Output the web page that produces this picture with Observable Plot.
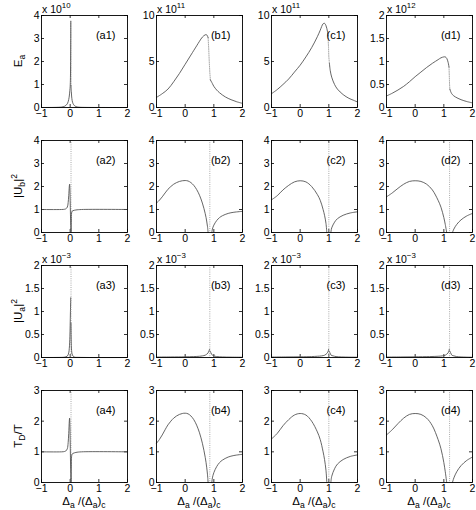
<!DOCTYPE html>
<html><head><meta charset="utf-8">
<script src="https://cdn.jsdelivr.net/npm/d3@7"></script>
<script src="https://cdn.jsdelivr.net/npm/@observablehq/plot@0.6"></script>
<style>
body{margin:0;background:#fff;}
#root{position:relative;width:476px;height:510px;font-family:"Liberation Sans",Arial,sans-serif;overflow:hidden;}
.panel{position:absolute;}
#overlay{position:absolute;left:0;top:0;pointer-events:none;}
</style></head><body><div id="root"></div>
<script>
// ---------- data ----------
const xTicks = [-1, 0, 1, 2];
const panelLabels = [["(a1)","(b1)","(c1)","(d1)"],["(a2)","(b2)","(c2)","(d2)"],["(a3)","(b3)","(c3)","(d3)"],["(a4)","(b4)","(c4)","(d4)"]];
const critX = [0.03, 0.86, 1.0, 1.2];
const exponents = [["10","11","11","12"], null, ["\u22123","\u22123","\u22123","\u22123"], null];

// Row 1: E_a
const EaA_up = [[-1,0],[-0.6,0.003],[-0.4,0.01],[-0.3,0.02],[-0.2,0.05],[-0.15,0.09],[-0.1,0.16],[-0.07,0.25],[-0.05,0.35],[-0.03,0.5],[-0.01,0.75],[0,0.9],[0.01,1.3],[0.015,2.0],[0.02,3.0],[0.022,3.75]];
const EaA_dot = [[0.022,3.75],[0.026,2.5],[0.03,0.95]];
const EaA_low = [[0.03,0.95],[0.04,0.7],[0.05,0.5],[0.07,0.3],[0.1,0.17],[0.15,0.08],[0.2,0.04],[0.3,0.015],[0.5,0.005],[2,0]];
const EaB_up = [[-1,1.1],[-0.8,1.5],[-0.6,2.0],[-0.4,2.8],[-0.2,3.7],[0,4.7],[0.2,5.7],[0.4,6.7],[0.5,7.2],[0.6,7.65],[0.7,7.9],[0.75,7.9],[0.8,7.6]];
const EaB_dot = [[0.8,7.6],[0.82,6.5],[0.84,5.0],[0.86,3.8],[0.88,3.0]];
const EaB_low = [[0.88,3.0],[0.95,2.6],[1.0,2.3],[1.1,1.9],[1.2,1.6],[1.4,1.15],[1.6,0.85],[1.8,0.62],[2,0.45]];
const EaC_up = [[-1,1.5],[-0.8,1.95],[-0.6,2.5],[-0.4,3.1],[-0.2,3.85],[0,4.6],[0.2,5.5],[0.4,6.5],[0.6,7.7],[0.7,8.4],[0.75,8.8],[0.8,9.1],[0.85,9.15],[0.9,8.9],[0.95,8.3],[0.97,7.8]];
const EaC_dot = [[0.97,7.8],[0.99,6.5],[1.0,5.5],[1.02,4.8]];
const EaC_low = [[1.02,4.8],[1.05,4.0],[1.1,3.3],[1.2,2.5],[1.3,2.0],[1.5,1.4],[1.7,1.0],[1.85,0.8],[2,0.6]];
const EaD_up = [[-1,0.25],[-0.8,0.31],[-0.6,0.38],[-0.4,0.46],[-0.2,0.56],[0,0.67],[0.2,0.77],[0.4,0.87],[0.6,0.96],[0.8,1.04],[0.9,1.08],[1.0,1.1],[1.05,1.1],[1.1,1.07],[1.15,0.98],[1.18,0.88]];
const EaD_dot = [[1.18,0.88],[1.19,0.7],[1.2,0.5],[1.21,0.4]];
const EaD_low = [[1.21,0.4],[1.25,0.33],[1.3,0.28],[1.4,0.23],[1.6,0.17],[1.8,0.13],[2,0.1]];

// Row 2 & 4: |U_b|^2 and T_D/T
const UbA_left = [[-1,1],[-0.3,1],[-0.2,1.01],[-0.15,1.03],[-0.1,1.1],[-0.07,1.3],[-0.05,1.6],[-0.03,2.0],[-0.02,2.1],[-0.01,1.9],[0,1.4],[0.01,0.8],[0.02,0.3],[0.025,0]];
const UbA_right = [[0.035,0],[0.04,0.5],[0.05,0.85],[0.07,0.93],[0.1,0.95],[0.2,0.98],[0.4,1.0],[2,1]];
const UbB_left = [[-1,1.28],[-0.9,1.4],[-0.8,1.55],[-0.7,1.72],[-0.6,1.88],[-0.5,2.0],[-0.4,2.1],[-0.3,2.17],[-0.2,2.22],[-0.1,2.25],[0,2.26],[0.1,2.24],[0.2,2.17],[0.3,2.05],[0.4,1.87],[0.5,1.62],[0.6,1.28],[0.7,0.82],[0.75,0.5],[0.78,0.25],[0.8,0]];
const UbB_right = [[0.93,0],[0.95,0.15],[1.0,0.32],[1.1,0.52],[1.2,0.65],[1.3,0.73],[1.5,0.83],[1.7,0.88],[2,0.92]];
const UbC_left = [[-1,1.42],[-0.8,1.6],[-0.6,1.85],[-0.4,2.05],[-0.2,2.2],[0,2.25],[0.2,2.2],[0.4,2.0],[0.6,1.65],[0.7,1.4],[0.8,1.0],[0.85,0.75],[0.9,0.4],[0.93,0]];
const UbC_right = [[1.07,0],[1.1,0.2],[1.2,0.45],[1.3,0.6],[1.5,0.75],[1.75,0.85],[2,0.9]];
const UbD_left = [[-1,1.55],[-0.8,1.72],[-0.6,1.92],[-0.4,2.1],[-0.2,2.22],[0,2.25],[0.2,2.22],[0.4,2.1],[0.6,1.85],[0.8,1.4],[0.9,1.1],[1.0,0.65],[1.05,0.35],[1.1,0]];
const UbD_right = [[1.3,0],[1.35,0.15],[1.45,0.35],[1.6,0.55],[1.8,0.72],[2,0.83]];

// Row 3: |U_a|^2
const UaA_left = [[-1,0],[-0.3,0.003],[-0.2,0.008],[-0.1,0.03],[-0.05,0.1],[-0.03,0.2],[-0.01,0.45],[0,0.7],[0.01,1.0],[0.02,1.3]];
const UaA_right = [[0.03,0.75],[0.035,0.4],[0.05,0.15],[0.08,0.05],[0.15,0.01],[0.3,0.003],[2,0]];
const UaB_left = [[-1,0.01],[-0.5,0.012],[0,0.015],[0.3,0.02],[0.5,0.027],[0.6,0.035],[0.7,0.05],[0.75,0.07],[0.8,0.1],[0.83,0.14],[0.85,0.18]];
const UaB_right = [[0.87,0.14],[0.9,0.1],[0.95,0.05],[1.0,0.035],[1.1,0.02],[1.3,0.012],[1.6,0.008],[2,0.006]];
const UaC_left = [[-1,0.01],[-0.5,0.012],[0,0.015],[0.4,0.02],[0.6,0.027],[0.75,0.035],[0.85,0.05],[0.9,0.07],[0.95,0.1],[0.98,0.14],[0.99,0.18]];
const UaC_right = [[1.01,0.14],[1.04,0.1],[1.08,0.05],[1.15,0.035],[1.25,0.02],[1.45,0.012],[1.7,0.008],[2,0.006]];
const UaD_left = [[-1,0.01],[-0.5,0.012],[0,0.015],[0.5,0.02],[0.8,0.027],[0.95,0.035],[1.05,0.05],[1.1,0.07],[1.15,0.1],[1.18,0.14],[1.19,0.18]];
const UaD_right = [[1.21,0.14],[1.24,0.1],[1.28,0.05],[1.35,0.035],[1.45,0.02],[1.6,0.012],[1.8,0.008],[2,0.006]];

const yTicksRows = [
  [[0,1,2,3,4],[0,5,10],[0,5,10],[0,0.5,1,1.5,2]],
  [[0,1,2,3,4],[0,1,2,3,4],[0,1,2,3,4],[0,1,2,3,4]],
  [[0,0.5,1,1.5,2],[0,0.5,1,1.5,2],[0,0.5,1,1.5,2],[0,0.5,1,1.5,2]],
  [[0,1,2,3],[0,1,2,3],[0,1,2,3],[0,1,2,3]]
];
const solidRows = [
  [[EaA_up,EaA_low],[EaB_up,EaB_low],[EaC_up,EaC_low],[EaD_up,EaD_low]],
  [[UbA_left,UbA_right],[UbB_left,UbB_right],[UbC_left,UbC_right],[UbD_left,UbD_right]],
  [[UaA_left,UaA_right],[UaB_left,UaB_right],[UaC_left,UaC_right],[UaD_left,UaD_right]],
  [[UbA_left,UbA_right],[UbB_left,UbB_right],[UbC_left,UbC_right],[UbD_left,UbD_right]]
];
const dottedRows = [[[EaA_dot],[EaB_dot],[EaC_dot],[EaD_dot]], null, null, null];
const yTitles = [
  [["E"],["a","sub"]],
  [["|U"],["b","sub"],["|"],["2","sup"]],
  [["|U"],["a","sub"],["|"],["2","sup"]],
  [["T"],["D","sub"],["/T"]]
];
const xTitle = [["\u0394"],["a","sub"],[" /(\u0394"],["a","sub"],[")"],["c","sub"]];

// ---------- layout ----------
const colLeft = [41, 156, 271, 386];
const rowTop = [15, 140, 265, 390];
const W = 86, H = 92;
const mL = 30, mR = 4, mT = 15, mB = 16;
const FONT = "Liberation Sans, Arial, Helvetica, sans-serif";
const fmt = d => d < 0 ? "\u2212" + (-d) : String(d);

const root = document.getElementById("root");

for (let r = 0; r < 4; r++) {
  for (let c = 0; c < 4; c++) {
    const yTicks = yTicksRows[r][c];
    const yDom = [yTicks[0], yTicks[yTicks.length - 1]];
    const marks = [
      Plot.tickX(xTicks, {x: d => d, insetTop: H - 3, stroke: "#000", strokeWidth: 0.8}),
      Plot.tickX(xTicks, {x: d => d, insetBottom: H - 3, stroke: "#000", strokeWidth: 0.8}),
      Plot.tickY(yTicks, {y: d => d, insetRight: W - 3, stroke: "#000", strokeWidth: 0.8}),
      Plot.tickY(yTicks, {y: d => d, insetLeft: W - 3, stroke: "#000", strokeWidth: 0.8})
    ];
    if (r > 0) marks.push(Plot.ruleX([critX[c]], {x: d => d, stroke: "#a0a0a0", strokeWidth: 0.9, strokeDasharray: "1,1.2"}));
    if (dottedRows[r]) for (const s of dottedRows[r][c]) marks.push(Plot.line(s, {stroke: "#a0a0a0", strokeWidth: 0.9, strokeDasharray: "1,1.2"}));
    for (const s of solidRows[r][c]) marks.push(Plot.line(s, {stroke: "#4a4a4a", strokeWidth: 0.85, curve: "catmull-rom"}));
    marks.push(Plot.text([panelLabels[r][c]], {text: d => d, frameAnchor: "top-right", dx: -12, dy: 20, textAnchor: "end", lineAnchor: "middle", fontSize: 11, fill: "#000"}));
    marks.push(Plot.frame({stroke: "#000", strokeWidth: 0.9}));
    const chart = Plot.plot({
      width: mL + W + mR,
      height: mT + H + mB,
      marginLeft: mL, marginRight: mR, marginTop: mT, marginBottom: mB,
      style: {fontSize: "10.5px", fontFamily: FONT, color: "#000", background: "transparent", overflow: "visible"},
      x: {domain: [-1, 2], ticks: xTicks, tickSize: 0, tickPadding: 2, tickFormat: fmt, label: null},
      y: {domain: yDom, ticks: yTicks, tickSize: 0, tickPadding: 2, tickFormat: fmt, label: null},
      marks
    });
    const div = document.createElement("div");
    div.className = "panel";
    div.style.left = (colLeft[c] - mL) + "px";
    div.style.top = (rowTop[r] - mT) + "px";
    div.appendChild(chart);
    root.appendChild(div);
  }
}

// ---------- overlay text (titles, exponents) ----------
const svg = d3.select(root).append("svg").attr("id", "overlay")
  .attr("width", 476).attr("height", 510)
  .attr("font-family", FONT).attr("fill", "#000");

function rich(textSel, parts, size) {
  let off = 0;
  for (const [t, kind] of parts) {
    const target = kind === "sub" ? 3 : kind === "sup" ? -5 : 0;
    textSel.append("tspan")
      .attr("dy", target - off)
      .attr("font-size", kind ? size * 0.75 : size)
      .text(t);
    off = target;
  }
}

for (let r = 0; r < 4; r++) {
  const cy = rowTop[r] + H / 2;
  const t = svg.append("text")
    .attr("transform", `translate(22,${cy}) rotate(-90)`)
    .attr("text-anchor", "middle");
  rich(t, yTitles[r], 11.5);
  if (exponents[r]) {
    for (let c = 0; c < 4; c++) {
      const e = svg.append("text").attr("x", colLeft[c] + 1).attr("y", rowTop[r] - 2);
      rich(e, [["x 10"], [exponents[r][c], "sup"]], 10.5);
    }
  }
}
for (let c = 0; c < 4; c++) {
  const t = svg.append("text")
    .attr("x", colLeft[c] + W / 2).attr("y", 505)
    .attr("text-anchor", "middle");
  rich(t, xTitle, 11.5);
}
</script></body></html>
